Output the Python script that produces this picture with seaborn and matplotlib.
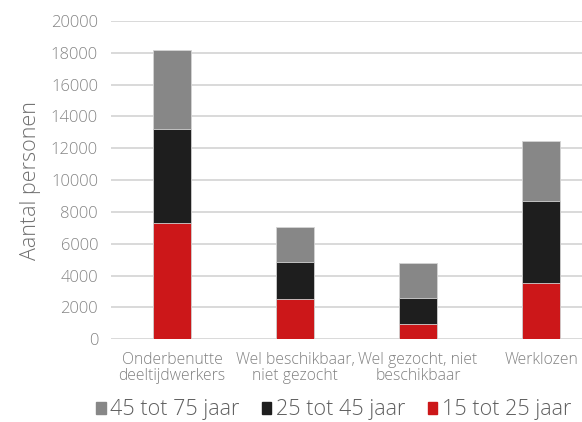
import matplotlib
matplotlib.use("Agg")
import matplotlib.pyplot as plt
import seaborn as sns
import pandas as pd
import numpy as np
from matplotlib.patches import Patch

categories = ["Onderbenutte\ndeeltijdwerkers", "Wel beschikbaar,\nniet gezocht",
              "Wel gezocht, niet\nbeschikbaar", "Werklozen"]
age_15_25 = [7300, 2550, 950, 3550]
age_25_45 = [5900, 2300, 1650, 5150]
age_45_75 = [5000, 2200, 2200, 3750]
series_names = ["45 tot 75 jaar", "25 tot 45 jaar", "15 tot 25 jaar"]
yticks = [0, 2000, 4000, 6000, 8000, 10000, 12000, 14000, 16000, 18000, 20000]

sns.set_theme(style="white")
plt.rcParams['font.family'] = ['Open Sans', 'DejaVu Sans']
plt.rcParams['font.weight'] = 300

c_red = "#cc1719"
c_black = "#1e1e1e"
c_gray = "#878787"

df = pd.DataFrame({"cat": categories,
                   "a": age_15_25, "b": age_25_45, "c": age_45_75})
df["s1"] = df["a"]
df["s2"] = df["a"] + df["b"]
df["s3"] = df["a"] + df["b"] + df["c"]

W, H = 582, 422
fig = plt.figure(figsize=(W / 100, H / 100), dpi=100)
ax = fig.add_axes([110.5 / W, 1 - 339.3 / H, (582 - 110.5) / W, (339.3 - 21) / H])

for col, color in [("s3", c_gray), ("s2", c_black), ("s1", c_red)]:
    sns.barplot(data=df, x="cat", y=col, color=color, width=0.31, ax=ax,
                saturation=1, edgecolor="#d4d4d4", linewidth=0.6, zorder=3)

ax.set_ylim(0, 20000)
ax.set_xlim(-0.5, (582 - 110.5) / 123 - 0.5)
ax.set_yticks(yticks)
ax.set_yticklabels([str(v) for v in yticks], fontsize=12, color="#858585", fontweight=300)
ax.yaxis.grid(True, color="#d9d9d9", linewidth=1.4, zorder=0)
ax.set_axisbelow(True)
for s in ax.spines.values():
    s.set_visible(False)
ax.tick_params(axis="both", length=0, pad=9)
ax.tick_params(axis="x", pad=9)
for lbl in ax.get_xticklabels():
    lbl.set_fontsize(11.3)
    lbl.set_color("#808080")
    lbl.set_fontweight(300)
    lbl.set_linespacing(1.05)
ax.set_xlabel("")
ax.set_ylabel("Aantal personen", fontsize=15.5, color="#707070", labelpad=7,
              fontweight=300)

handles = [Patch(color=c_gray), Patch(color=c_black), Patch(color=c_red)]
leg = fig.legend(handles, series_names, loc="center", bbox_to_anchor=(0.573, 1 - 410 / H),
                 ncol=3, frameon=False, fontsize=15.5, handlelength=0.45, handleheight=0.45,
                 handletextpad=0.2, columnspacing=1.05)
for t in leg.get_texts():
    t.set_color("#5f5f5f")
    t.set_fontweight(300)

fig.savefig("out.png", dpi=100)
